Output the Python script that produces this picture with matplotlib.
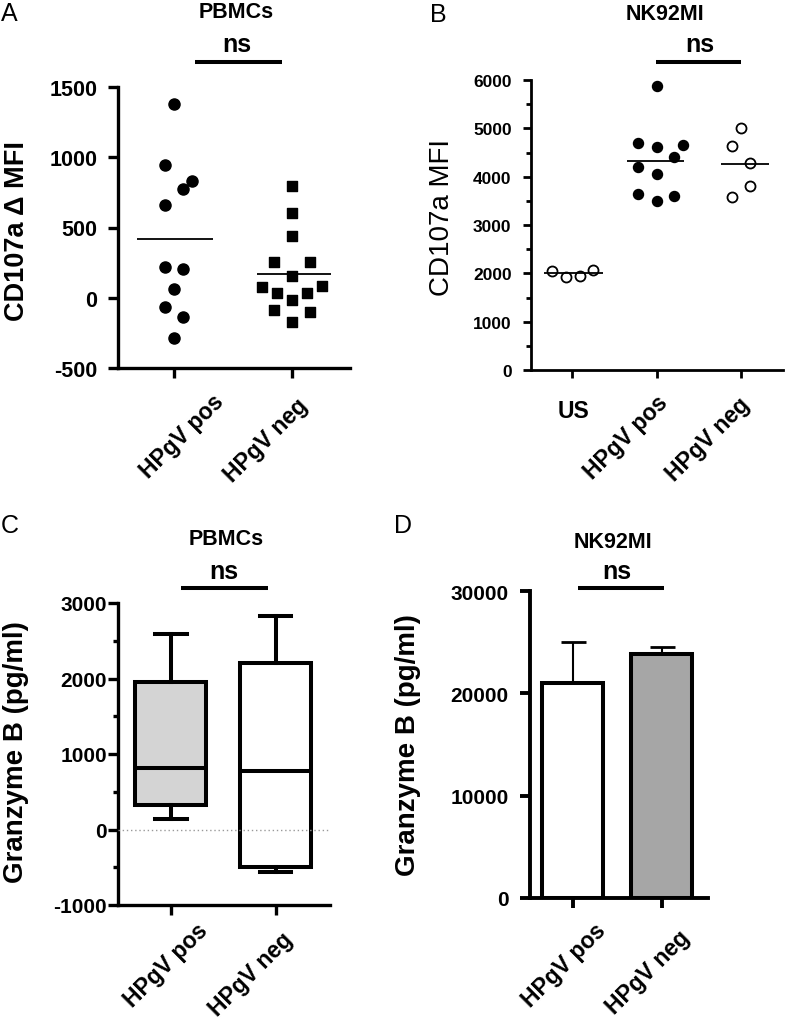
import matplotlib
matplotlib.use('Agg')
import matplotlib.pyplot as plt
import numpy as np
from matplotlib.transforms import ScaledTranslation

plt.rcParams['font.family'] = ['Liberation Sans', 'DejaVu Sans']
plt.rcParams['axes.unicode_minus'] = False

# ---- data ----
# A: PBMCs CD107a delta MFI
a_groups = ['HPgV pos', 'HPgV neg']
a_pos = [1379, 948, 829, 777, 659, 220, 204, 59, -64, -135, -289]
a_pos_jit = [0, -0.075, 0.15, 0.075, -0.075, -0.075, 0.075, 0, -0.075, 0.075, 0]
a_neg = [794, 600, 438, 256, 256, 156, 78, 85, 36, 36, -17, -88, -100, -171]
a_neg_jit = [0, 0, 0, -0.155, 0.15, 0, -0.254, 0.25, -0.13, 0.125, 0, -0.155, 0.15, 0]

# B: NK92MI CD107a MFI
b_groups = ['US', 'HPgV pos', 'HPgV neg']
b_us = [2055, 1917, 1952, 2076]
b_us_jit = [-0.237, -0.079, 0.087, 0.25]
b_pos = [5883, 4697, 4607, 4655, 4400, 4207, 4055, 3641, 3607, 3503]
b_pos_jit = [0, -0.22, 0, 0.315, 0.21, -0.22, 0, -0.22, 0.21, 0]
b_neg = [5000, 4641, 4283, 3800, 3572]
b_neg_jit = [0, -0.11, 0.107, 0.107, -0.11]

# C: PBMCs granzyme B box plot (min, q1, median, q3, max)
c_groups = ['HPgV pos', 'HPgV neg']
c_min = [141, -566]
c_q1 = [318, -499]
c_med = [818, 773]
c_q3 = [1953, 2201]
c_max = [2594, 2829]

# D: NK92MI granzyme B bars
d_groups = ['HPgV pos', 'HPgV neg']
d_mean = [21000, 23800]
d_err = [4060, 760]

W, H = 786, 1020
fig = plt.figure(figsize=(W / 100, H / 100), dpi=100)


def px_axes(left, top, right, bottom):
    return fig.add_axes([left / W, 1 - bottom / H, (right - left) / W, (bottom - top) / H])


def style(ax, lw, ticklen, ypad, ysize):
    for s in ['top', 'right']:
        ax.spines[s].set_visible(False)
    for s in ['left', 'bottom']:
        ax.spines[s].set_linewidth(lw)
        ax.spines[s].set_capstyle('projecting')
    ax.tick_params(axis='both', which='major', width=lw, length=ticklen, color='black')
    ax.tick_params(axis='y', pad=ypad, labelsize=ysize)
    for lab in ax.get_yticklabels():
        lab.set_fontweight('bold')
    ax.set_xticklabels([])


def xlabels(ax, labels, offsets, size, rot=45):
    for i, (lab, (dx, dy)) in enumerate(zip(labels, offsets)):
        r = 0 if lab == 'US' else rot
        tr = ax.get_xaxis_transform() + ScaledTranslation(dx / 100, -dy / 100, fig.dpi_scale_trans)
        ax.text(i, 0, lab, transform=tr, rotation=r, ha='center', va='center',
                fontsize=size, fontweight='bold', clip_on=False)


def header(ax, title, tx, ty, nsx, nsy, x0, x1, ly):
    tr = ax.get_xaxis_transform()
    ax.text(tx, ty, title, transform=tr, ha='center', va='center', fontsize=15.5, fontweight='bold')
    ax.text(nsx, nsy, 'ns', transform=tr, ha='center', va='center', fontsize=18, fontweight='bold')
    ax.plot([x0, x1], [ly, ly], transform=tr, color='black', lw=2.9,
            solid_capstyle='butt', clip_on=False)


# ---- Panel A ----
axA = px_axes(118, 88, 350, 369)
axA.scatter(np.array(a_pos_jit), a_pos, s=64, color='black', marker='o', zorder=3, clip_on=False)
axA.scatter(1 + np.array(a_neg_jit), a_neg, s=48, color='black', marker='s', zorder=3, clip_on=False)
axA.hlines(np.mean(a_pos), -0.31, 0.33, color='black', lw=1.3)
axA.hlines(np.mean(a_neg), 1 - 0.30, 1 + 0.33, color='black', lw=1.3)
axA.set_xlim(-0.475, 1.49)
axA.set_ylim(-500, 1500)
axA.set_yticks([-500, 0, 500, 1000, 1500])
axA.set_xticks([0, 1])
style(axA, 2.4, 7, 8, 15.5)
xlabels(axA, a_groups, [(8, 68), (-26, 72)], 16.5)
axA.set_ylabel('CD107a \u0394 MFI', fontsize=19.5, fontweight='bold')
axA.yaxis.set_label_coords(-0.378, 0.49)
header(axA, 'PBMCs', 0.53, 1.267, 0.53, 1.153, 0.18, 0.91, 1.089)

# ---- Panel B ----
axB = px_axes(531, 81, 783, 371)
axB.scatter(np.array(b_us_jit), b_us, s=52, facecolor='white', edgecolor='black',
            linewidth=1.3, zorder=3, clip_on=False)
axB.scatter(1 + np.array(b_pos_jit), b_pos, s=52, color='black', zorder=3, clip_on=False)
axB.scatter(2 + np.array(b_neg_jit), b_neg, s=52, facecolor='white', edgecolor='black',
            linewidth=1.3, zorder=3, clip_on=False)
axB.hlines(np.mean(b_us), -0.33, 0.36, color='black', lw=1.3, zorder=4)
axB.hlines(np.mean(b_pos), 1 - 0.35, 1 + 0.32, color='black', lw=1.3, zorder=4)
axB.hlines(np.mean(b_neg), 2 - 0.24, 2 + 0.33, color='black', lw=1.3, zorder=4)
axB.set_xlim(-0.49, 2.5)
axB.set_ylim(0, 6000)
axB.set_yticks(np.arange(0, 6001, 1000))
axB.set_yticks(np.arange(500, 6000, 1000), minor=True)
axB.set_xticks([0, 1, 2])
style(axB, 2.0, 5.5, 8.5, 12.5)
axB.tick_params(axis='y', which='minor', width=2.0, length=3.5)
xlabels(axB, b_groups, [(1, 41), (-31, 67), (-33, 69)], 16.5)
axB.set_ylabel('CD107a MFI', fontsize=20)
axB.yaxis.set_label_coords(-0.30, 0.53)
header(axB, 'NK92MI', 1.10, 1.228, 1.51, 1.124, 0.99, 2.0, 1.062)

# ---- Panel C ----
axC = px_axes(118, 604, 330, 906)
stats = []
for i in range(len(c_groups)):
    stats.append(dict(whislo=c_min[i], q1=c_q1[i], med=c_med[i], q3=c_q3[i],
                      whishi=c_max[i], fliers=[]))
bp = axC.bxp(stats, positions=[0, 1], widths=0.68, capwidths=0.3, patch_artist=True,
             showfliers=False,
             boxprops=dict(linewidth=2.9, edgecolor='black'),
             whiskerprops=dict(linewidth=2.9, color='black'),
             capprops=dict(linewidth=2.9, color='black'),
             medianprops=dict(linewidth=2.9, color='black'))
for patch, fc in zip(bp['boxes'], ['#d4d4d4', 'white']):
    patch.set_facecolor(fc)
axC.axhline(0, color='#999999', lw=1.0, ls=(0, (1, 2)), zorder=3)
axC.set_xlim(-0.505, 1.52)
axC.set_ylim(-1000, 3000)
axC.set_yticks([-1000, 0, 1000, 2000, 3000])
axC.set_yticks([-500, 500, 1500, 2500], minor=True)
axC.set_xticks([0, 1])
style(axC, 2.4, 7, 1, 15)
axC.tick_params(axis='y', which='minor', width=2.4, length=3.5)
xlabels(axC, c_groups, [(-5, 60), (-25, 69)], 16.5)
axC.set_ylabel('Granzyme B (pg/ml)', fontsize=20, fontweight='bold')
axC.yaxis.set_label_coords(-0.42, 0.51)
header(axC, 'PBMCs', 0.53, 1.212, 0.51, 1.106, 0.10, 0.93, 1.05)

# ---- Panel D ----
axD = px_axes(530, 592, 708, 899)
axD.bar([0, 1], d_mean, width=0.68, color=['white', '#a6a6a6'], edgecolor='black',
        linewidth=2.9, zorder=3)
axD.errorbar([0, 1], d_mean, yerr=[[0, 0], d_err], fmt='none', ecolor='black',
             elinewidth=1.5, capsize=9, capthick=2.0, zorder=2)
axD.set_xlim(-0.48, 1.52)
axD.set_ylim(0, 30000)
axD.set_yticks([0, 10000, 20000, 30000])
axD.set_xticks([0, 1])
style(axD, 2.8, 7, 8.5, 15)
xlabels(axD, d_groups, [(-9, 67), (-14, 74)], 16.5)
axD.set_ylabel('Granzyme B (pg/ml)', fontsize=20, fontweight='bold')
axD.yaxis.set_label_coords(-0.61, 0.50)
header(axD, 'NK92MI', 0.45, 1.16, 0.49, 1.065, 0.06, 1.02, 1.010)

# panel letters
for letter, (x, y) in zip('ABCD', [(9, 14), (438, 15), (10, 526), (403, 526)]):
    fig.text(x / W, 1 - y / H, letter, ha='center', va='center', fontsize=18)

fig.savefig('out.png', dpi=100)
